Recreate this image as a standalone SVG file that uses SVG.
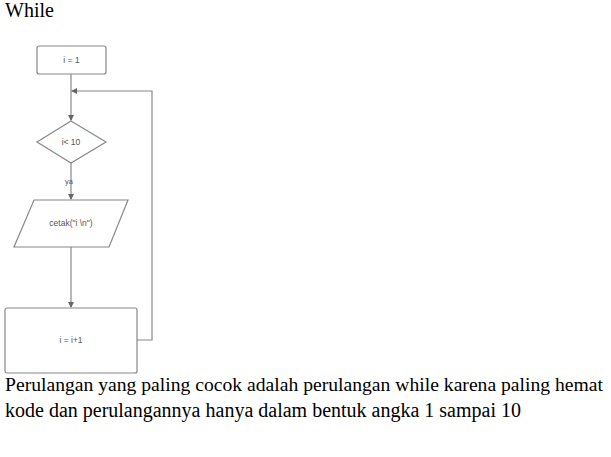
<svg xmlns="http://www.w3.org/2000/svg" width="611" height="457" viewBox="0 0 611 457">
<defs>
<marker id="ah" markerWidth="6" markerHeight="6" refX="5" refY="3" orient="auto" markerUnits="userSpaceOnUse">
<path d="M0,0 L6,3 L0,6 Z" fill="#666"/>
</marker>
<style>
.shape{fill:#fff;stroke:#888;stroke-width:1.2}
.lbl{font-family:"Liberation Sans",Arial,sans-serif;font-size:8.5px;fill:#555;text-anchor:middle}
.conn{fill:none;stroke:#888;stroke-width:1.2}
.prose{font-family:"Liberation Serif","Times New Roman",serif;font-size:20px;fill:#000}
</style>
</defs>
<rect width="611" height="457" fill="#fff"/>
<text class="prose" x="5" y="17">While</text>
<g id="connectors">
<line class="conn" x1="71" y1="74" x2="71" y2="120" marker-end="url(#ah)"/>
<polyline class="conn" points="137,340 152,340 152,91 72,91" marker-end="url(#ah)"/>
<line class="conn" x1="71" y1="163" x2="71" y2="199" marker-end="url(#ah)"/>
<line class="conn" x1="71" y1="247" x2="71" y2="307" marker-end="url(#ah)"/>
<text class="lbl" x="69" y="184" style="font-size:7.5px">ya</text>
</g>
<g id="start">
<rect class="shape" x="37" y="46" width="69" height="28" rx="2"/>
<text class="lbl" x="71.5" y="63">i = 1</text>
</g>
<g id="cond">
<polygon class="shape" points="71,121 106,142 71,163 37,142"/>
<text class="lbl" x="71" y="145">i&lt; 10</text>
</g>
<g id="print">
<polygon class="shape" points="34,200 128,200 109,247 14,247"/>
<text class="lbl" x="71" y="226">cetak("i \n")</text>
</g>
<g id="incr">
<rect class="shape" x="5" y="308" width="132" height="65" rx="2"/>
<text class="lbl" x="71" y="343">i = i+1</text>
</g>
<text class="prose" x="5" y="391" style="font-size:18.5px" textLength="598" lengthAdjust="spacingAndGlyphs">Perulangan yang paling cocok adalah perulangan while karena paling hemat</text>
<text class="prose" x="5" y="417" textLength="516" lengthAdjust="spacingAndGlyphs">kode dan perulangannya hanya dalam bentuk angka 1 sampai 10</text>
</svg>
